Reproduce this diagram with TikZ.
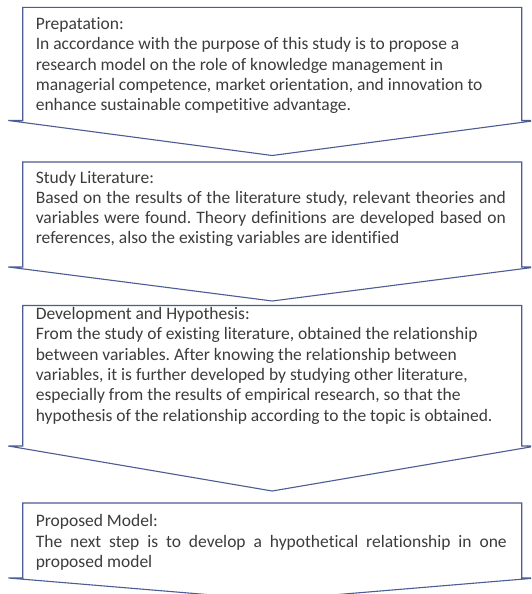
\documentclass[tikz,border=0pt]{standalone}
\usepackage{fontspec}
\setmainfont{Carlito}[Ligatures=NoCommon]
\definecolor{outl}{RGB}{76,92,148}
\definecolor{txt}{RGB}{60,60,60}
\newcommand\bodyfont{\fontsize{17.5}{20.3}\selectfont\frenchspacing}
\newcommand\downcallout[3]{%
  \draw[callout] (22.7,#1) -- (521.7,#1) -- (521.7,#2) -- (536.1,#2) -- (272.2,#3) -- (8.3,#2) -- (22.7,#2) -- cycle;}
\begin{document}
\begin{tikzpicture}[x=1pt,y=-1pt,
  callout/.style={draw=outl, line width=1.1pt, fill=white, line join=miter},
  body/.style={anchor=base west, inner sep=0pt, text=txt}]
\useasboundingbox (0,0) rectangle (531,594);
\clip (0,0) rectangle (531,594);
\fill[white] (0,0) rectangle (531,594);
\downcallout{7.4}{120.5}{155.5}
\downcallout{162}{267}{301}
\downcallout{305.5}{446}{491}
\downcallout{503}{578}{600}
\node[body] (prep) at (35.6,29.7) {\parbox[t]{490pt}{\bodyfont\raggedright
Prepatation:\\
In accordance with the purpose of this study is to propose a\\
research model on the role of knowledge management in\\
managerial competence, market orientation, and innovation to\\
enhance sustainable competitive advantage.}};
\node[body] (lit) at (35.6,183) {\parbox[t]{490pt}{\bodyfont\raggedright
Study Literature:\\
\makebox[470pt][s]{Based on the results of the literature study, relevant theories and}\\
\makebox[470pt][s]{variables were found. Theory definitions are developed based on}\\
references, also the existing variables are identified}};
\node[body] (hyp) at (35.6,319.5) {\parbox[t]{490pt}{\bodyfont\raggedright
Development and Hypothesis:\\
From the study of existing literature, obtained the relationship\\
between variables. After knowing the relationship between\\
variables, it is further developed by studying other literature,\\
especially from the results of empirical research, so that the\\
hypothesis of the relationship according to the topic is obtained.}};
\node[body] (model) at (35.6,526.8) {\parbox[t]{490pt}{\bodyfont\raggedright
Proposed Model:\\
\makebox[471pt][s]{The next step is to develop a hypothetical relationship in one}\\
proposed model}};
\end{tikzpicture}
\end{document}
